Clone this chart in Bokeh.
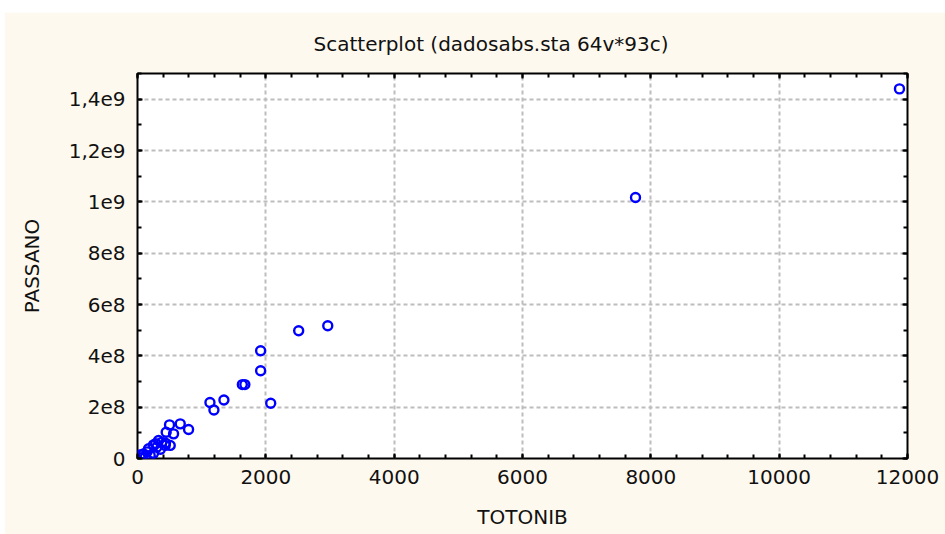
from bokeh.plotting import figure
from bokeh.models import LinearAxis, FixedTicker, Range1d, CustomLabelingPolicy
from bokeh.embed import file_html
from bokeh.resources import INLINE

# TOTONIB vs PASSANO observations
totonib = [11875, 7761, 2965, 2512, 1919, 1919, 1634, 1673, 2076, 1129,
           1191, 1347, 499, 666, 796, 562, 447, 328, 380, 510,
           250, 432, 301, 172, 94, 42, 198, 120, 358, 285,
           150, 60, 250, 436]
passano = [1.44e9, 1.017e9, 5.17e8, 4.98e8, 4.20e8, 3.42e8, 2.88e8, 2.88e8, 2.15e8, 2.18e8,
           1.89e8, 2.28e8, 1.31e8, 1.35e8, 1.13e8, 9.6e7, 1.02e8, 7.0e7, 6.3e7, 5.1e7,
           5.3e7, 5.1e7, 4.4e7, 3.8e7, 1.8e7, 1.4e7, 1.2e7, 5e6, 3.6e7, 5.8e7,
           2.6e7, 3e6, 2.0e7, 6.0e7]

x_ticks = [0, 2000, 4000, 6000, 8000, 10000, 12000]
x_minor = list(range(0, 12001, 400))
y_ticks = [0, 2e8, 4e8, 6e8, 8e8, 1e9, 1.2e9, 1.4e9]
y_minor = [i * 1e8 for i in range(0, 16)]
y_labels = ["0", "2e8", "4e8", "6e8", "8e8", "1e9", "1,2e9", "1,4e9"]

FONT = "DejaVu Sans"
CREAM = "#FEF9EE"

p = figure(width=941, height=522, margin=(12, 0, 0, 4),
           output_backend="svg", toolbar_location=None,
           x_range=Range1d(0, 12000), y_range=Range1d(0, 1.5e9),
           x_axis_location=None, y_axis_location=None,
           min_border_left=133, min_border_right=38,
           min_border_top=61, min_border_bottom=76)

p.background_fill_color = "white"
p.border_fill_color = CREAM
p.outline_line_color = "black"
p.outline_line_width = 2

p.title.text = "Scatterplot (dadosabs.sta 64v*93c)"
p.title.align = "left"
p.title.offset = 176
p.title.vertical_align = "bottom"
p.title.text_font = FONT
p.title.text_font_size = "20px"
p.title.text_font_style = "normal"
p.title.text_color = "#111111"
p.title.standoff = 35

# mirrored axes on top/right carry ticks only
no_labels = CustomLabelingPolicy(code="""
    for (const i of indices) {
        indices.unset(i)
    }
    return indices
""")


def style_axis(ax, ticks, minor, show_labels):
    ax.ticker = FixedTicker(ticks=ticks, minor_ticks=minor)
    ax.axis_line_color = None
    ax.major_tick_in = 5
    ax.major_tick_out = 0
    ax.minor_tick_in = 4
    ax.minor_tick_out = 0
    ax.major_tick_line_color = "black"
    ax.minor_tick_line_color = "black"
    ax.major_tick_line_width = 2
    ax.minor_tick_line_width = 2
    ax.major_label_text_font = FONT
    ax.major_label_text_color = "#111111"
    ax.axis_label_text_font = FONT
    ax.axis_label_text_font_style = "normal"
    ax.axis_label_text_color = "#111111"
    if not show_labels:
        ax.major_label_policy = no_labels
        ax.major_label_text_font_size = "0px"
        ax.major_label_standoff = 0
        ax.axis_label = None


xb = LinearAxis(axis_label="TOTONIB")
style_axis(xb, x_ticks, x_minor, True)
xb.major_label_text_font_size = "20px"
xb.major_label_standoff = 11
xb.axis_label_text_font_size = "20px"
xb.axis_label_standoff = 18
p.add_layout(xb, "below")

yl = LinearAxis(axis_label="PASSANO")
style_axis(yl, y_ticks, y_minor, True)
yl.major_label_overrides = {t: s for t, s in zip(y_ticks, y_labels)}
yl.major_label_text_font_size = "20px"
yl.major_label_standoff = 12
yl.axis_label_text_font_size = "20px"
yl.axis_label_standoff = 22
p.add_layout(yl, "left")

xt = LinearAxis()
style_axis(xt, x_ticks, x_minor, False)
p.add_layout(xt, "above")

yr = LinearAxis()
style_axis(yr, y_ticks, y_minor, False)
p.add_layout(yr, "right")

for g in (p.xgrid, p.ygrid):
    g.grid_line_color = "#BDBDBD"
    g.grid_line_width = 2
    g.grid_line_dash = "4 3"
p.xgrid.ticker = FixedTicker(ticks=x_ticks)
p.ygrid.ticker = FixedTicker(ticks=y_ticks)

p.scatter(totonib, passano, marker="circle", size=9,
          line_color="#0000FF", line_width=2.4, fill_color=None)

open("out.html", "w").write(file_html(p, INLINE))
